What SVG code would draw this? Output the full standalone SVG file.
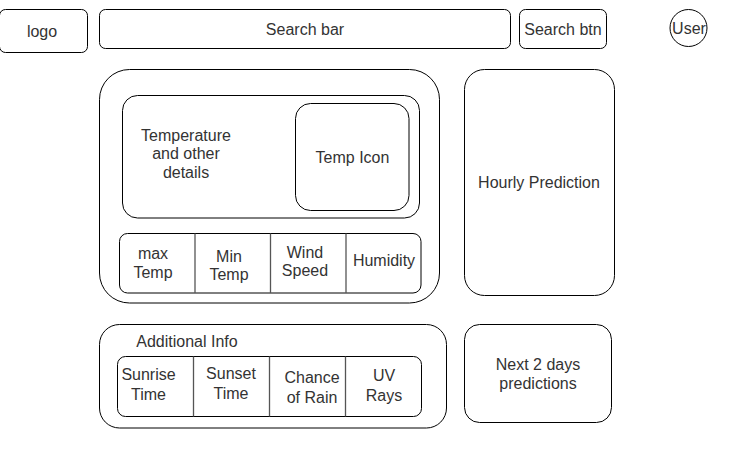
<svg xmlns="http://www.w3.org/2000/svg" width="731" height="454" viewBox="0 0 731 454">
<style>
.b{fill:#fff;stroke:#000;stroke-width:1}
.d{stroke:#555;stroke-width:1.3;fill:none}
text{font-family:"Liberation Sans",Arial,sans-serif;font-size:16px;fill:#333;text-anchor:middle}
</style>
<rect width="731" height="454" fill="#fff"/>
<g id="logo"><rect class="b" x="-0.5" y="9.5" width="88" height="43" rx="6"/><text x="42" y="37">logo</text></g>
<g id="search-bar"><rect class="b" x="99.5" y="9.5" width="411" height="39" rx="6"/><text x="305" y="35">Search bar</text></g>
<g id="search-btn"><rect class="b" x="519.5" y="9.5" width="87" height="39" rx="6"/><text x="563" y="35">Search btn</text></g>
<g id="user"><circle class="b" cx="688.5" cy="28" r="18.5"/><text x="689" y="33.5">User</text></g>
<g id="main-card">
<rect class="b" x="99.5" y="69.5" width="340" height="233.5" rx="30"/>
<rect class="b" x="122.5" y="95.5" width="297" height="122.5" rx="15"/>
<text x="186" y="140.5">Temperature</text>
<text x="186" y="159">and other</text>
<text x="186" y="177.5">details</text>
</g>
<g id="temp-icon"><rect class="b" x="295.5" y="103.5" width="113.5" height="107" rx="15"/><text x="352.5" y="163">Temp Icon</text></g>
<g id="stats">
<rect class="b" x="119.5" y="233.5" width="301.5" height="59.5" rx="8"/>
<text x="153" y="259.3">max</text><text x="153" y="277.5">Temp</text>
<text x="229" y="261.7">Min</text><text x="229" y="280">Temp</text>
<text x="305" y="257.5">Wind</text><text x="305" y="276">Speed</text>
<text x="384" y="266">Humidity</text>
</g>
<g id="hourly"><rect class="b" x="464.5" y="69.5" width="150" height="226" rx="20"/><text x="539" y="188">Hourly Prediction</text></g>
<g id="additional">
<rect class="b" x="99.5" y="324.5" width="347" height="103.5" rx="20"/>
<text x="187" y="346.5">Additional Info</text>
<rect class="b" x="117.5" y="356.5" width="304" height="60" rx="8"/>
<text x="148.5" y="380">Sunrise</text><text x="148.5" y="400">Time</text>
<text x="231" y="379.3">Sunset</text><text x="231" y="399.3">Time</text>
<text x="312" y="382.5">Chance</text><text x="312" y="402.5">of Rain</text>
<text x="384" y="380.5">UV</text><text x="384" y="400.5">Rays</text>
</g>
<g id="next-days"><rect class="b" x="464.5" y="324.5" width="147" height="98" rx="15"/><text x="538" y="370">Next 2 days</text><text x="538" y="388.5">predictions</text></g>
<g id="connectors">
<line class="d" x1="195" y1="233.5" x2="195" y2="293"/>
<line class="d" x1="270.5" y1="233.5" x2="270.5" y2="293"/>
<line class="d" x1="346" y1="233.5" x2="346" y2="293"/>
<line class="d" x1="193.5" y1="356.5" x2="193.5" y2="416.5"/>
<line class="d" x1="269.5" y1="356.5" x2="269.5" y2="416.5"/>
<line class="d" x1="345.5" y1="356.5" x2="345.5" y2="416.5"/>
</g>
</svg>
